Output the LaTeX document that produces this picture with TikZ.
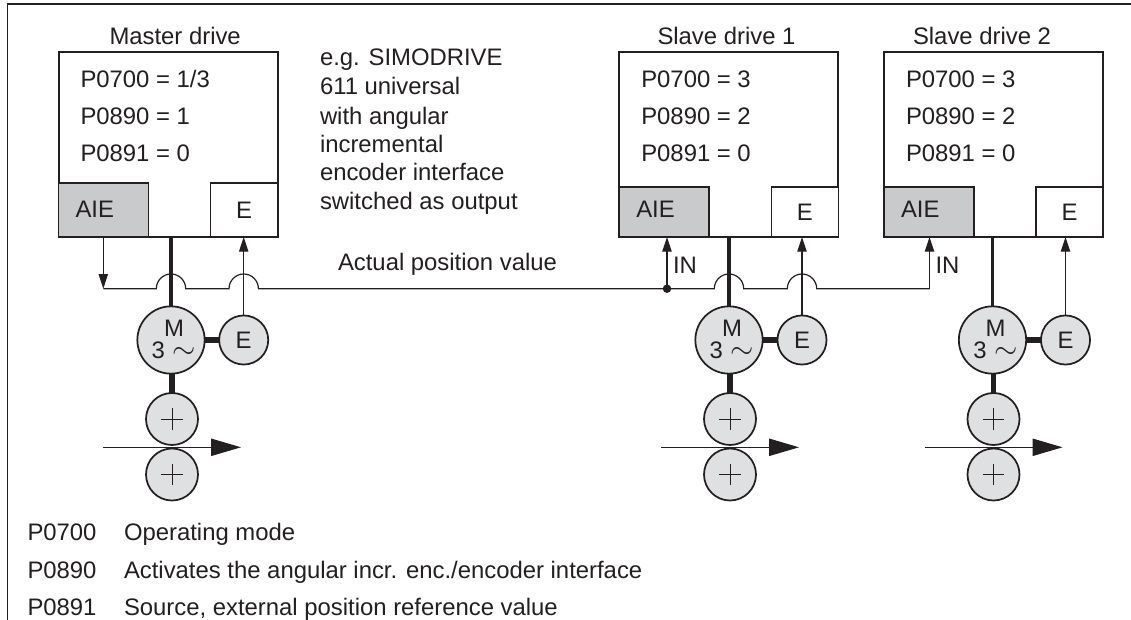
\documentclass[tikz,border=0pt]{standalone}
\usepackage{fontspec}
\usepackage{graphicx}
\setmainfont{Liberation Sans}
\usetikzlibrary{arrows.meta}
\definecolor{ink}{HTML}{231F20}
\definecolor{aiegrey}{HTML}{C8CACC}
\definecolor{motorgrey}{HTML}{DFE0E1}
\tikzset{
  x=0.75pt,y=-0.75pt,
  every node/.style={font=\fontsize{17.9pt}{20pt}\selectfont,text=ink,inner sep=0pt,outer sep=0pt},
  lbl/.style={anchor=base west},
  drivebox/.style={draw=ink,line width=1.5pt,fill=white},
  aiebox/.style={draw=ink,line width=1.3pt,fill=aiegrey},
  ebox/.style={draw=ink,line width=1pt,fill=white},
  thinln/.style={draw=ink,line width=0.9pt},
  medln/.style={draw=ink,line width=2.3pt},
  shaft/.style={draw=ink,line width=4.2pt},
  sig/.style={draw=ink,line width=0.9pt,-{Triangle[length=11pt,width=7pt]}},
  circ/.style={circle,draw=ink,line width=1.3pt,fill=motorgrey,text=ink},
  motor/.style={circ,minimum size=50.5pt},
  enc/.style={circ,minimum size=36.8pt},
  roll/.style={circ,minimum size=39pt},
  crossln/.style={draw=ink,line width=0.5pt},
  motortext/.style={align=center,font=\fontsize{17.9pt}{16.5pt}\selectfont},
}
% #1 prefix, #2 left x, #3 title x, #4 title, #5 P0700 row, #6 motor x, #7 enc x, #8 P0890 value, #9 height of the lower boxes
\newcommand{\driveunit}[9]{%
\node[drivebox,minimum width=164.25pt,minimum height=138.75pt,anchor=north west] (#1box) at (#2,52) {};
\node[aiebox,minimum width=67.5pt,minimum height=#9pt,anchor=south west] (#1aie) at (#1box.south west) {};
\node[ebox,minimum width=50.25pt,minimum height=#9pt,anchor=south east] (#1e) at (#1box.south east) {};
\node[lbl] (#1title) at (#3,44.5) {#4};
\node[lbl] (#1pa) at (#2+22,87.5) {#5};
\node[lbl] (#1pb) at (#2+22,124.5) {P0890 = #8};
\node[lbl] (#1pc) at (#2+22,161.5) {P0891 = 0};
\node[lbl] (#1aiet) at (#2+17,218) {AIE};
\node (#1et) at (#1e.center) {E};
\node[motor] (#1m) at (#6,340) {};
\node[motortext] (#1ml) at (#6+3,339) {M\\3\,\,\scalebox{1.3}{$\sim$}};
\node[enc] (#1enc) at (#7,340) {E};
\node[roll] (#1ra) at (#6+1,419) {};
\node[roll] (#1rb) at (#6+1,474.5) {};
\draw[shaft] (#1m) -- (#1enc);
\draw[shaft] (#1m.south -| #1ra) -- (#1ra.north);
\draw[crossln] ([xshift=-8pt]#1ra.center) -- ([xshift=8pt]#1ra.center);
\draw[crossln] ([yshift=-8pt]#1ra.center) -- ([yshift=8pt]#1ra.center);
\draw[crossln] ([xshift=-8pt]#1rb.center) -- ([xshift=8pt]#1rb.center);
\draw[crossln] ([yshift=-8pt]#1rb.center) -- ([yshift=8pt]#1rb.center);
\coordinate (#1fa) at (#6-68,447.3);
\coordinate (#1fb) at (#6+70,447.3);
\draw[draw=ink,line width=0.9pt,-{Triangle[length=22.5pt,width=13pt]}] (#1fa) -- (#1fb);
\draw[medln] (#1box.south -| #1m) -- (#1m.north);
\draw[sig] (#1enc.north) -- (#1box.south -| #1enc);
}
\begin{document}
\begin{tikzpicture}
\useasboundingbox (0,0) rectangle (1131,620);
\coordinate (fa) at (7.5,620);
\coordinate (fb) at (7.5,4.3);
\coordinate (fc) at (1131,4.3);
\draw[draw=ink,line width=1.2pt] (fa) -- (fb) -- (fc);

\driveunit{ma}{58.5}{109.5}{Master drive}{P0700 = 1/3}{171}{243.7}{1}{40.5}
\driveunit{sa}{619.3}{657.5}{Slave drive 1}{P0700 = 3}{729}{802}{2}{37.5}
\driveunit{sb}{884}{913}{Slave drive 2}{P0700 = 3}{992.5}{1065.5}{2}{37.5}

\node[lbl] (t1) at (320,66) {e.g. SIMODRIVE};
\node[lbl] (t2) at (320,95) {611 universal};
\node[lbl] (t3) at (320,124.5) {with angular};
\node[lbl] (t4) at (320,152.5) {incremental};
\node[lbl] (t5) at (320,181) {encoder interface};
\node[lbl] (t6) at (320,209.5) {switched as output};
\node[lbl] (apv) at (338,271) {Actual position value};
\node[lbl] (ina) at (673,273.5) {IN};
\node[lbl] (inb) at (935.5,273.5) {IN};

\coordinate (busa) at (103.3,288.7);
\coordinate (busb) at (929.5,288.7);
\coordinate (mast) at (103.3,237);
\coordinate (slva) at (667,237);
\coordinate (slvb) at (929.5,237);
\coordinate (jct) at (667,288.7);
\draw[thinln] (busa)
  -- (156.3,288.7) arc[start angle=180,end angle=360,radius=14.7]
  -- (229,288.7) arc[start angle=180,end angle=360,radius=14.7]
  -- (714.3,288.7) arc[start angle=180,end angle=360,radius=14.7]
  -- (787.3,288.7) arc[start angle=180,end angle=360,radius=14.7]
  -- (busb);
\draw[sig] (mast) -- (busa);
\draw[sig] (jct) -- (slva);
\draw[sig] (busb) -- (slvb);
\fill[ink] (jct) circle[radius=3.2pt];

\node[lbl] (la) at (27.5,540) {P0700};
\node[lbl] (lb) at (27.5,578) {P0890};
\node[lbl] (lc) at (27.5,615) {P0891};
\node[lbl] (da) at (124,540) {Operating mode};
\node[lbl] (db) at (124,578) {Activates the angular incr. enc./encoder interface};
\node[lbl] (dc) at (124,615) {Source, external position reference value};
\end{tikzpicture}
\end{document}
